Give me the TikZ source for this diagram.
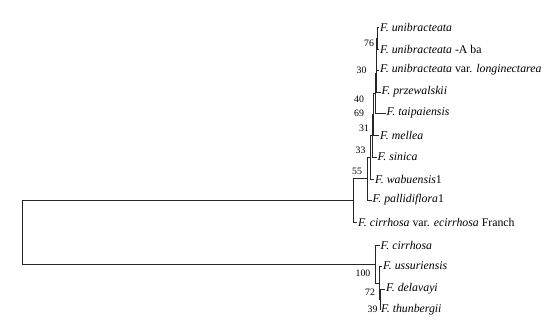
\documentclass[tikz,border=0pt]{standalone}
\usepackage{fontspec}
\setmainfont{Liberation Serif}
\usepackage{tikz}

\begin{document}
\begin{tikzpicture}[
    x=1pt, y=-1pt,
    leaf/.style={anchor=west, inner sep=1pt, font=\fontsize{11.8}{13}\selectfont},
    boot/.style={inner sep=0pt, font=\fontsize{9.8}{11}\selectfont},
    branch/.style={draw=black!85, line width=0.9pt}
]
\useasboundingbox (0,0) rectangle (553,325);

% Leaves
\node[leaf] (unib)  at (379,27)  {\textit{F. unibracteata}};
\node[leaf] (aba)   at (379,49)  {\textit{F. unibracteata} -A ba};
\node[leaf] (longi) at (379,70)  {\textit{F. unibracteata} var. \textit{longinectarea}};
\node[leaf] (prze)  at (380.5,92) {\textit{F. przewalskii}};
\node[leaf] (taip)  at (385.5,113) {\textit{F. taipaiensis}};
\node[leaf] (mell)  at (379,135) {\textit{F. mellea}};
\node[leaf] (sini)  at (376.5,157) {\textit{F. sinica}};
\node[leaf] (wabu)  at (374,179) {\textit{F. wabuensis}1};
\node[leaf] (pall)  at (371.5,200) {\textit{F. pallidiflora}1};
\node[leaf] (ecir)  at (357,222) {\textit{F. cirrhosa} var. \textit{ecirrhosa} Franch};
\node[leaf] (cirr)  at (379.5,245) {\textit{F. cirrhosa}};
\node[leaf] (ussu)  at (382,266) {\textit{F. ussuriensis}};
\node[leaf] (dela)  at (385,289) {\textit{F. delavayi}};
\node[leaf] (thun)  at (380,310) {\textit{F. thunbergii}};

% Internal nodes
\coordinate (n76) at (377,38);
\coordinate (n30) at (376.5,54);
\coordinate (n40) at (376,73);
\coordinate (n69) at (375,93);
\coordinate (n31) at (373.5,114);
\coordinate (nf)  at (372,135.5);
\coordinate (n33) at (370,157);
\coordinate (nh)  at (367,178.5);
\coordinate (n55) at (353,200);
\coordinate (n39) at (380,299.5);
\coordinate (n72) at (379,283);
\coordinate (n100) at (375.7,264);
\coordinate (root) at (22,232);

% Bootstrap values
\node[boot] (b76)  at (369,43)  {76};
\node[boot] (b30)  at (361.5,70.5) {30};
\node[boot] (b40)  at (359,99)  {40};
\node[boot] (b69)  at (359,113) {69};
\node[boot] (b31)  at (364,128) {31};
\node[boot] (b33)  at (360.5,150) {33};
\node[boot] (b55)  at (357,171) {55};
\node[boot] (b100) at (363,273) {100};
\node[boot] (b72)  at (370,292) {72};
\node[boot] (b39)  at (372.5,309) {39};

% Branches
\draw[branch] (n76) |- (unib.west) (n76) |- (aba.west);
\draw[branch] (n30) |- (n76) (n30) |- (longi.west);
\draw[branch] (n40) |- (n30) (n40) |- (prze.west);
\draw[branch] (n69) |- (n40) (n69) |- (taip.west);
\draw[branch] (n31) |- (n69) (n31) |- (mell.west);
\draw[branch] (nf) |- (n31) (nf) |- (sini.west);
\draw[branch] (n33) |- (nf) (n33) |- (wabu.west);
\draw[branch] (nh) |- (n33) (nh) |- (pall.west);
\draw[branch] (n55) |- (nh) (n55) |- (ecir.west);
\draw[branch] (n39) |- (dela.west) (n39) |- (thun.west);
\draw[branch] (n72) |- (ussu.west) (n72) |- (n39);
\draw[branch] (n100) |- (cirr.west) (n100) |- (n72);
\draw[branch] (root) |- (n55) (root) |- (n100);

\end{tikzpicture}
\end{document}
